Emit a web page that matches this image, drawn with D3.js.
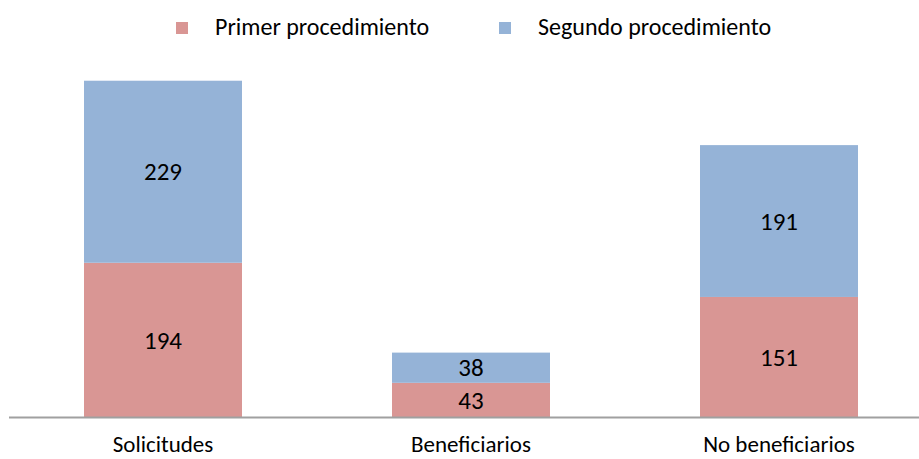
<!DOCTYPE html>
<html>
<head>
<meta charset="utf-8">
<script src="https://cdn.jsdelivr.net/npm/d3@7"></script>
<style>
body{margin:0;background:#fff;}
text{font-family:Carlito,"Open Sans","Liberation Sans",sans-serif;fill:#000;}
</style>
</head>
<body>
<div id="chart"></div>
<script>
// datos
var categorias = ["Solicitudes", "Beneficiarios", "No beneficiarios"];
var primer = [194, 43, 151];
var segundo = [229, 38, 191];
var series = ["Primer procedimiento", "Segundo procedimiento"];
var colores = ["#D99694", "#95B3D7"];

var W = 919, H = 459;
var svg = d3.select("#chart").append("svg").attr("width", W).attr("height", H);

var x = d3.scaleBand().domain(categorias).range([9, 933]).paddingInner(0.487).paddingOuter(0.2435);
var y = d3.scaleLinear().domain([0, 500]).range([417, 19.5]);

var filas = categorias.map(function(c, i){ return {cat: c, primer: primer[i], segundo: segundo[i]}; });
var stack = d3.stack().keys(["primer", "segundo"])(filas);

var g = svg.selectAll("g.serie").data(stack).enter().append("g").attr("class", "serie")
	.attr("fill", function(d, i){ return colores[i]; });

g.selectAll("rect").data(function(d){ return d; }).enter().append("rect")
	.attr("x", function(d){ return x(d.data.cat); })
	.attr("width", x.bandwidth())
	.attr("y", function(d){ return y(d[1]); })
	.attr("height", function(d){ return y(d[0]) - y(d[1]); });

//etiquetas de valor
g.selectAll("text").data(function(d){ return d; }).enter().append("text")
	.attr("x", function(d){ return x(d.data.cat) + x.bandwidth()/2; })
	.attr("y", function(d){ return (y(d[0]) + y(d[1]))/2; })
	.attr("dy", "0.35em")
	.attr("text-anchor", "middle")
	.style("font-size", "25px")
	.text(function(d){ return d[1] - d[0]; });

//eje
svg.append("line").attr("x1", 9).attr("x2", 919).attr("y1", 417.5).attr("y2", 417.5)
	.attr("stroke", "#A0A0A0").attr("stroke-width", 2);

svg.selectAll("text.cat").data(categorias).enter().append("text").attr("class", "cat")
	.attr("x", function(d){ return x(d) + x.bandwidth()/2; })
	.attr("y", 452)
	.attr("text-anchor", "middle")
	.style("font-size", "23px")
	.text(function(d){ return d; });

//leyenda
var legX = [176, 499];
var ley = svg.selectAll("g.ley").data(series).enter().append("g").attr("class", "ley")
	.attr("transform", function(d, i){ return "translate(" + legX[i] + ",28)"; });
ley.append("rect").attr("x", 0).attr("y", -6).attr("width", 12).attr("height", 12)
	.attr("fill", function(d, i){ return colores[i]; });
ley.append("text").attr("x", 39).attr("y", 7).style("font-size", "24px")
	.text(function(d){ return d; });
</script>
</body>
</html>
